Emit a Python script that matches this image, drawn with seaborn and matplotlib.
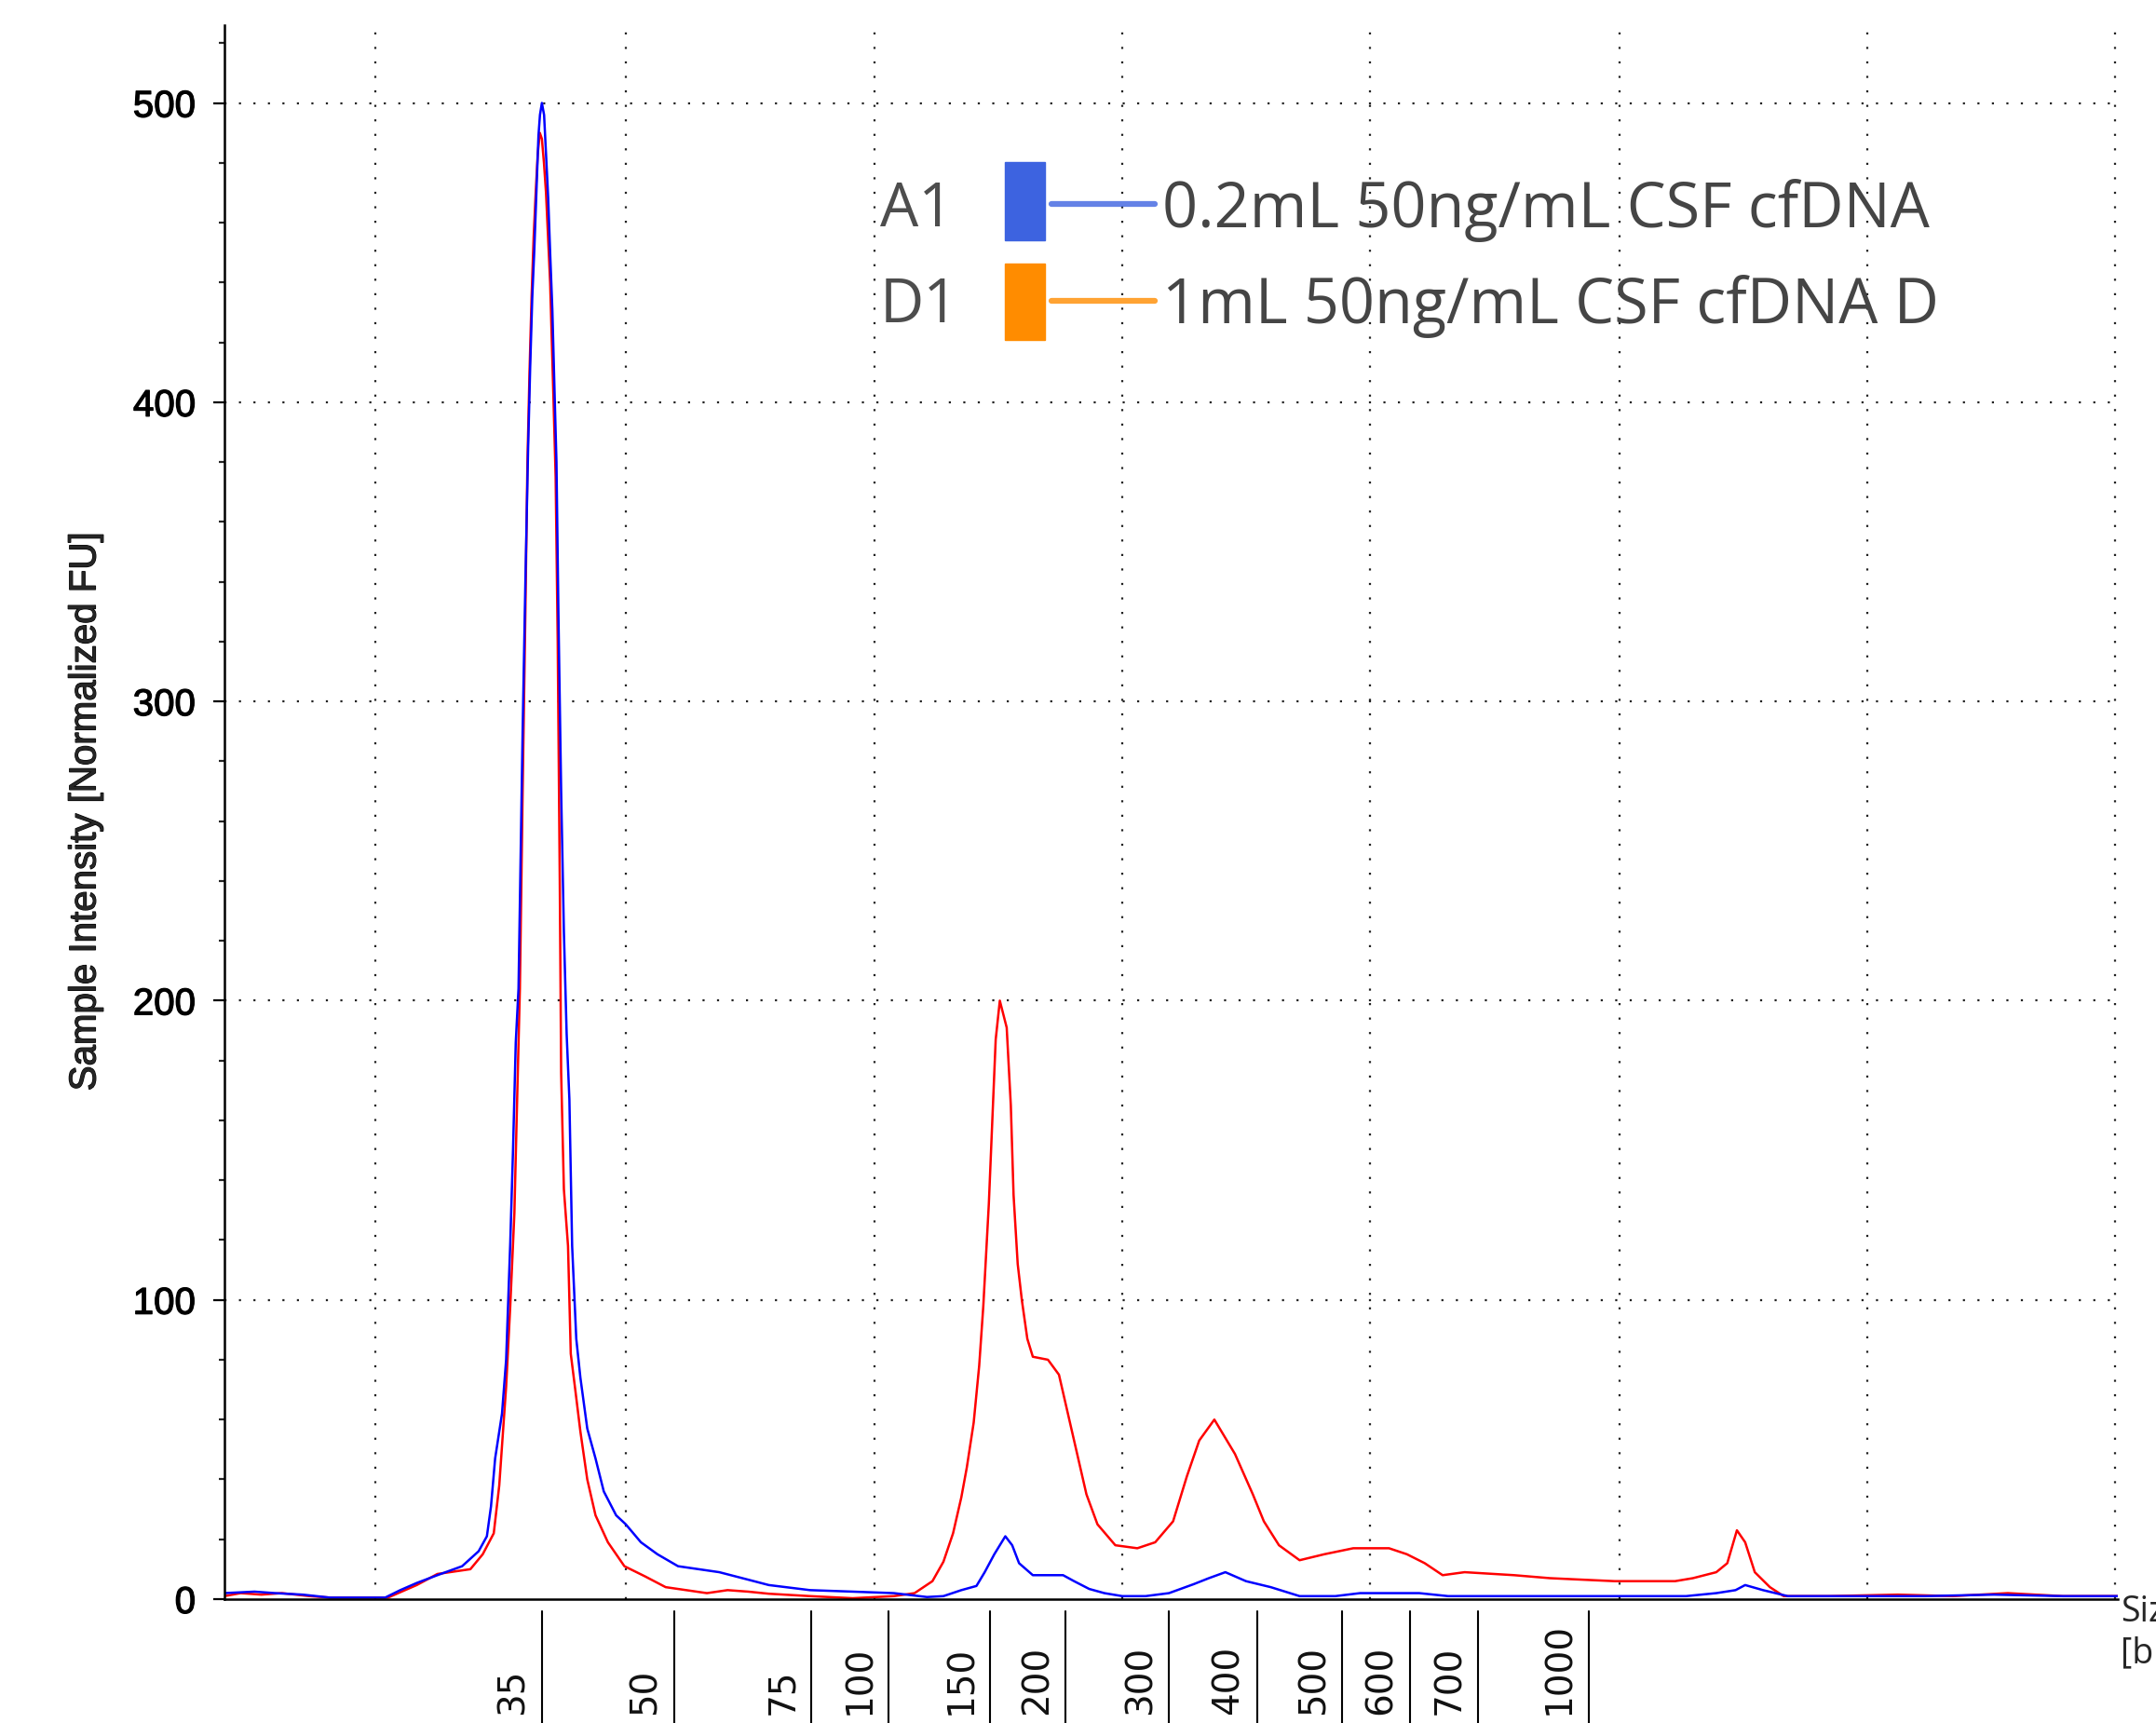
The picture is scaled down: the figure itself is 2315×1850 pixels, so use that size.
import numpy as np
import pandas as pd
import matplotlib
matplotlib.use("Agg")
import matplotlib.pyplot as plt
import matplotlib.transforms as mtransforms
import matplotlib.patheffects as pe
from matplotlib.ticker import MultipleLocator
from matplotlib.patches import Rectangle
from matplotlib.lines import Line2D
import seaborn as sns

# ---- trace data: migration position (a.u.) vs normalized FU
a1_pos = [0.0, 2.2, 3.7, 5.7, 7.7, 11.7, 12.8, 14.0, 15.5, 17.3, 18.5, 19.1, 19.4, 19.7,
          20.2, 20.5, 20.8, 21.0, 21.2, 21.4, 21.7, 21.9, 22.1, 22.25, 22.4, 22.55, 22.7,
          22.85, 22.96, 23.1, 23.26, 23.4, 23.56, 23.7, 23.86, 24.07, 24.16, 24.3, 24.5,
          24.7, 24.9, 25.1, 25.3, 25.6, 25.9, 26.4, 27.0, 27.6, 28.5, 29.2, 30.3, 31.5,
          33.0, 34.5, 36.0, 38.1, 39.6, 42.6, 45.7, 48.7, 51.1, 52.3, 53.6, 54.7, 55.3,
          56.0, 56.8, 57.3, 57.8, 58.8, 59.7, 61.0, 61.8, 62.9, 64.0, 65.3, 67.0, 68.7,
          70.5, 71.6, 72.8, 74.3, 76.1, 78.2, 80.8, 82.6, 86.9, 89.0, 106.3, 108.5, 109.9,
          110.6, 111.9, 113.7, 123.7, 128.7, 133.7, 137.7]
a1_fu = [2, 2.5, 2, 1.5, 0.5, 0.5, 3, 5.4, 8, 11, 16, 21, 31, 47,
         62, 80, 119, 150, 186, 204, 290, 340, 385, 412, 435, 451, 470,
         489, 496, 500, 496, 483, 468, 450, 431, 395, 380, 330, 270,
         223, 189, 167, 118, 87, 74, 57, 47, 36, 28, 25, 19, 15,
         11, 10, 9, 6.5, 4.7, 3, 2.5, 2, 0.7, 1, 3, 4.4, 9,
         15, 21, 18, 12, 8, 8, 8, 6, 3.4, 2, 1, 1, 2,
         5, 7, 9, 6, 4, 1, 1, 2, 2, 1, 1, 2, 3,
         4.7, 3, 1, 1, 1.5, 1, 1]

d1_pos = [0.0, 1.2, 2.7, 4.2, 6.2, 7.7, 11.9, 14.0, 15.5, 17.9, 18.8, 19.6, 20.0, 20.5,
          20.8, 21.1, 21.3, 21.5, 21.7, 21.9, 22.05, 22.2, 22.35, 22.5, 22.65, 22.8, 22.95,
          23.1, 23.25, 23.4, 23.55, 23.7, 23.95, 24.1, 24.25, 24.4, 24.5, 24.7, 25.0, 25.2,
          25.5, 25.9, 26.4, 27.0, 27.9, 29.1, 30.6, 32.1, 33.6, 35.1, 36.6, 38.1, 39.6,
          42.6, 45.7, 48.7, 50.2, 51.5, 52.3, 53.0, 53.6, 54.0, 54.5, 54.9, 55.2, 55.6,
          55.9, 56.1, 56.4, 56.9, 57.2, 57.4, 57.7, 58.0, 58.4, 58.8, 59.9, 60.7, 61.6,
          62.7, 63.5, 64.8, 66.4, 67.7, 69.0, 70.0, 70.9, 72.0, 73.5, 74.8, 75.6, 76.7,
          78.2, 80.0, 82.1, 84.7, 86.0, 87.3, 88.6, 90.2, 93.8, 96.4, 101.1, 105.5, 106.8,
          108.5, 109.3, 110.0, 110.6, 111.3, 112.4, 113.4, 116.7, 121.7, 125.7, 129.7,
          133.7, 137.7]
d1_fu = [1, 2, 1.5, 2, 1, 0.5, 0.5, 4.7, 8.4, 10, 15, 22, 38, 71,
         98, 129, 167, 204, 270, 330, 380, 410, 435, 455, 470, 483, 490,
         488, 480, 470, 455, 440, 400, 375, 320, 240, 176, 137, 118, 82,
         71, 56, 40, 28, 19, 11, 7.6, 4, 3, 2, 3, 2.5, 1.8,
         1, 0.3, 1, 2, 6, 12.5, 22, 34, 44, 59, 78, 98, 132,
         165, 187, 200, 191, 165, 135, 112, 100, 87, 81, 80, 75, 57,
         35, 25, 18, 17, 19, 26, 41, 53, 60, 48.5, 35, 26, 18,
         13, 15, 17, 17, 15, 12, 8, 9, 8, 7, 6, 6, 7,
         9, 12, 23, 19, 9, 4, 1, 1, 1.5, 1, 2,
         1, 1]

# ladder sizes under the axis
ladder_bp = ["35", "50", "75", "100", "150", "200", "300", "400", "500", "600", "700", "1000"]
ladder_pos = [23.1, 32.7, 42.7, 48.3, 55.7, 61.2, 68.7, 75.1, 81.3, 86.2, 91.2, 99.2]

wells = ["A1", "D1"]
sample_names = ["0.2mL 50ng/mL CSF cfDNA", "1mL 50ng/mL CSF cfDNA D"]
legend_colors = ["#3d63e0", "#ff8c00"]
trace_colors = {"A1": "#0000ff", "D1": "#ff0000"}

df = pd.concat([
    pd.DataFrame({"pos": a1_pos, "fu": a1_fu, "well": "A1"}),
    pd.DataFrame({"pos": d1_pos, "fu": d1_fu, "well": "D1"}),
], ignore_index=True)

sns.set_style("white")
plt.rcParams["font.family"] = ["Liberation Sans", "DejaVu Sans"]

fig = plt.figure(figsize=(23.15, 18.5), dpi=100)
ax = fig.add_axes([0.1040, 0.0719, 0.8783, 0.9135])

# dotted grid
grid_x = [11.0, 29.2, 47.3, 65.3, 83.3, 101.5, 119.5, 137.5]
for gx in grid_x:
    ax.axvline(gx, color="#222222", lw=1.6, ls=(0, (1, 6)), zorder=0)
for gy in [100, 200, 300, 400, 500]:
    ax.axhline(gy, color="#222222", lw=1.6, ls=(0, (1, 6)), zorder=0)

sns.lineplot(data=df, x="pos", y="fu", hue="well", hue_order=["D1", "A1"],
             palette=trace_colors, estimator=None, sort=False, legend=False,
             lw=1.8, ax=ax)

thick = [pe.withStroke(linewidth=0.9, foreground="black")]

ax.set_xlim(0, 137.7)
ax.set_ylim(0, 526)
ax.set_xticks([])
ax.set_yticks([0, 100, 200, 300, 400, 500])
ax.yaxis.set_minor_locator(MultipleLocator(20))
ax.tick_params(axis="y", which="major", length=9, width=1.6, pad=13,
               labelsize=29, colors="black", left=True)
ax.tick_params(axis="y", which="minor", length=4.5, width=1.6, left=True)
for lbl in ax.get_yticklabels():
    lbl.set_path_effects(thick)
ax.set_xlabel("")
ax.set_ylabel("")
for s in ["top", "right"]:
    ax.spines[s].set_visible(False)
for s in ["left", "bottom"]:
    ax.spines[s].set_color("black")
    ax.spines[s].set_linewidth(1.8)

fig.text(0.0395, 0.529, "Sample Intensity [Normalized FU]", rotation=90,
         ha="center", va="center", fontsize=29, path_effects=thick)

# size ladder below the axis
trans = mtransforms.blended_transform_factory(ax.transData, ax.transAxes)
for p, lab in zip(ladder_pos, ladder_bp):
    ax.plot([p, p], [-0.0077, -0.08], color="black", lw=1.5, transform=trans, clip_on=False)
    ax.text(p - 2.1, -0.0734, lab, transform=trans, rotation=90, ha="center",
            va="bottom", fontsize=28, family="DejaVu Sans", color="#111111")

fig.text(0.9836, 0.0745, "Size\n[bp]", ha="left", va="top", fontsize=27,
         family="Open Sans", linespacing=1.25)

# sample legend (clipped on the right like the original box)
clip = mtransforms.TransformedBbox(mtransforms.Bbox([[0, 0], [0.8992, 1]]), fig.transFigure)
rows_y = [0.878, 0.822]
rect_boxes = [(0.8603, 0.0455), (0.8029, 0.0439)]
for well, name, col, yy, (rb, rh) in zip(wells, sample_names, legend_colors, rows_y, rect_boxes):
    fig.text(0.408, yy, well, ha="left", va="center", fontsize=47,
             family="Open Sans", color="#4d4d4d")
    fig.patches.append(Rectangle((0.4662, rb), 0.0185, rh,
                                 transform=fig.transFigure, color=col, figure=fig))
    fig.lines.append(Line2D([0.4879, 0.5357], [yy + 0.0035, yy + 0.0035], lw=4.5,
                            color=col, alpha=0.8, transform=fig.transFigure, figure=fig))
    t = fig.text(0.5389, yy, name, ha="left", va="center", fontsize=48,
                 family="Open Sans", color="#454545")
    t.set_clip_box(clip)
    t.set_clip_on(True)

fig.savefig("out.png", dpi=100)
